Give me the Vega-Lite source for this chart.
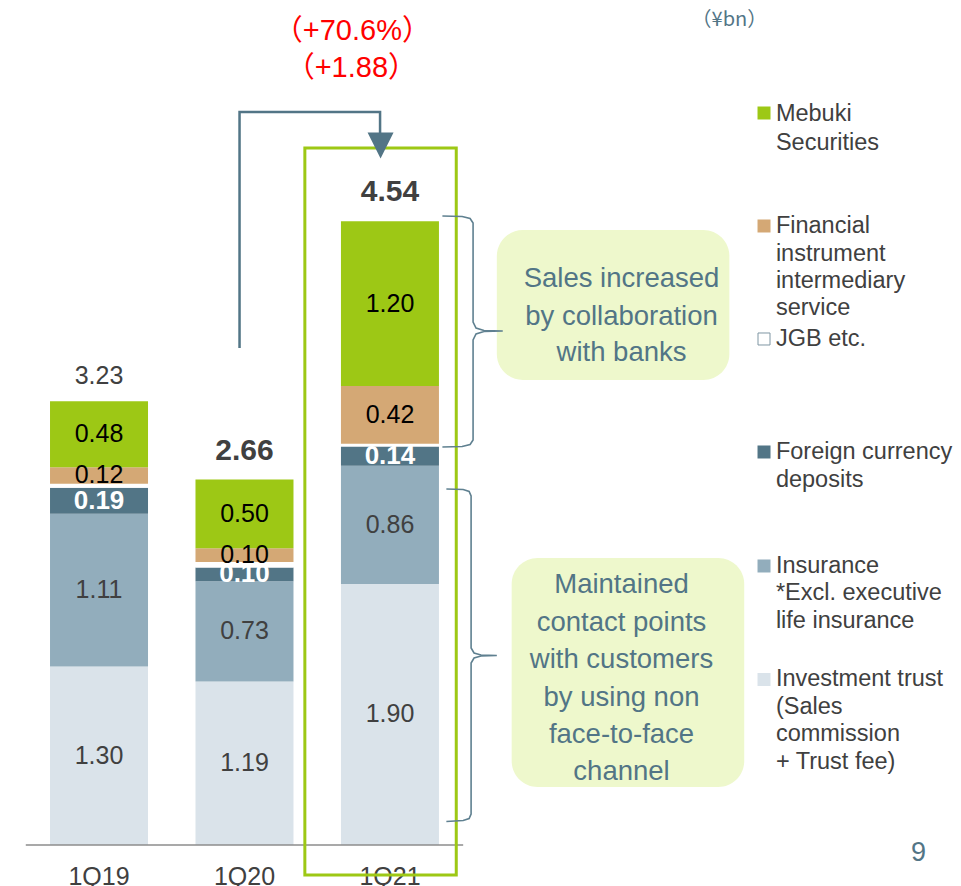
{
"$schema": "https://vega.github.io/schema/vega-lite/v6.json",
"width": 961, "height": 886,
"autosize": {"type": "none"},
"padding": 0,
"background": "white",
"config": {"view": {"stroke": null}, "font": "Liberation Sans", "text": {"font": "Liberation Sans"}},
"datasets": {
"seg": [
{"q":"1Q19","x":0,"cat":"Investment trust","k":1,"v":1.30},
{"q":"1Q19","x":0,"cat":"Insurance","k":2,"v":1.11},
{"q":"1Q19","x":0,"cat":"Foreign currency deposits","k":3,"v":0.19},
{"q":"1Q19","x":0,"cat":"JGB etc.","k":4,"v":0.03},
{"q":"1Q19","x":0,"cat":"Financial instrument intermediary service","k":5,"v":0.12},
{"q":"1Q19","x":0,"cat":"Mebuki Securities","k":6,"v":0.48},
{"q":"1Q20","x":1,"cat":"Investment trust","k":1,"v":1.19},
{"q":"1Q20","x":1,"cat":"Insurance","k":2,"v":0.73},
{"q":"1Q20","x":1,"cat":"Foreign currency deposits","k":3,"v":0.10},
{"q":"1Q20","x":1,"cat":"JGB etc.","k":4,"v":0.04},
{"q":"1Q20","x":1,"cat":"Financial instrument intermediary service","k":5,"v":0.10},
{"q":"1Q20","x":1,"cat":"Mebuki Securities","k":6,"v":0.50},
{"q":"1Q21","x":2,"cat":"Investment trust","k":1,"v":1.90},
{"q":"1Q21","x":2,"cat":"Insurance","k":2,"v":0.86},
{"q":"1Q21","x":2,"cat":"Foreign currency deposits","k":3,"v":0.14},
{"q":"1Q21","x":2,"cat":"JGB etc.","k":4,"v":0.02},
{"q":"1Q21","x":2,"cat":"Financial instrument intermediary service","k":5,"v":0.42},
{"q":"1Q21","x":2,"cat":"Mebuki Securities","k":6,"v":1.20}
],
"cats": [{"q":"1Q19","x":0,"t":3.23},{"q":"1Q20","x":1,"t":2.66},{"q":"1Q21","x":2,"t":4.54}],
"conn": [{"o":1,"x":0.966,"y":3.6172},{"o":2,"x":0.966,"y":5.3348},{"o":3,"x":1.932,"y":5.3348},{"o":4,"x":1.932,"y":5.1674}],
"brace": [
{"b":1,"o":1,"x":2.3605,"y":4.5779},{"b":1,"o":2,"x":2.4966,"y":4.5742},{"b":1,"o":3,"x":2.551,"y":4.5597},{"b":1,"o":4,"x":2.5714,"y":4.5269},{"b":1,"o":5,"x":2.5714,"y":3.8064},{"b":1,"o":6,"x":2.5918,"y":3.7627},{"b":1,"o":7,"x":2.6463,"y":3.7445},{"b":1,"o":8,"x":2.7755,"y":3.7409},{"b":1,"o":9,"x":2.6463,"y":3.7373},{"b":1,"o":10,"x":2.5918,"y":3.7191},{"b":1,"o":11,"x":2.5714,"y":3.6754},{"b":1,"o":12,"x":2.5714,"y":2.9476},{"b":1,"o":13,"x":2.551,"y":2.9148},{"b":1,"o":14,"x":2.4966,"y":2.9003},{"b":1,"o":15,"x":2.3605,"y":2.8967},
{"b":2,"o":1,"x":2.3878,"y":2.591},{"b":2,"o":2,"x":2.5034,"y":2.5873},{"b":2,"o":3,"x":2.5442,"y":2.5728},{"b":2,"o":4,"x":2.5578,"y":2.54},{"b":2,"o":5,"x":2.5578,"y":1.4338},{"b":2,"o":6,"x":2.5782,"y":1.3974},{"b":2,"o":7,"x":2.6259,"y":1.3828},{"b":2,"o":8,"x":2.7347,"y":1.3792},{"b":2,"o":9,"x":2.6259,"y":1.3755},{"b":2,"o":10,"x":2.5782,"y":1.361},{"b":2,"o":11,"x":2.5578,"y":1.3246},{"b":2,"o":12,"x":2.5578,"y":0.2256},{"b":2,"o":13,"x":2.5442,"y":0.1929},{"b":2,"o":14,"x":2.5034,"y":0.1783},{"b":2,"o":15,"x":2.3878,"y":0.171}
],
"callout": [{"x":2.7347,"x2":4.3333,"y":3.3843,"y2":4.476},{"x":2.8367,"x2":4.4354,"y":0.4221,"y2":2.0888}],
"ctext": [
{"x":3.5918,"y":4.1194,"t":"Sales increased"},
{"x":3.5918,"y":3.8464,"t":"by collaboration"},
{"x":3.5918,"y":3.5808,"t":"with banks"},
{"x":3.5918,"y":1.8923,"t":"Maintained"},
{"x":3.5918,"y":1.6157,"t":"contact points"},
{"x":3.5918,"y":1.3464,"t":"with customers"},
{"x":3.5918,"y":1.0735,"t":"by using non"},
{"x":3.5918,"y":0.8006,"t":"face-to-face"},
{"x":3.5918,"y":0.5313,"t":"channel"}
],
"red": [{"x":1.7415,"y":5.9243,"t":"（+70.6%）"},{"x":1.7347,"y":5.655,"t":"（+1.88）"}],
"legsq": [
{"cat":"Mebuki Securities","x":4.5714,"y":5.3275},
{"cat":"Financial instrument intermediary service","x":4.5714,"y":4.5051},
{"cat":"Foreign currency deposits","x":4.5714,"y":2.8603},
{"cat":"Insurance","x":4.5714,"y":2.0306},
{"cat":"Investment trust","x":4.5714,"y":1.2045}
],
"legtxt": [
{"x":4.6531,"y":5.3202,"t":"Mebuki"},
{"x":4.6531,"y":5.1092,"t":"Securities"},
{"x":4.6531,"y":4.5051,"t":"Financial"},
{"x":4.6531,"y":4.3013,"t":"instrument"},
{"x":4.6531,"y":4.1048,"t":"intermediary"},
{"x":4.6531,"y":3.9083,"t":"service"},
{"x":4.6531,"y":3.6827,"t":"JGB etc."},
{"x":4.6531,"y":2.8603,"t":"Foreign currency"},
{"x":4.6531,"y":2.6565,"t":"deposits"},
{"x":4.6531,"y":2.0306,"t":"Insurance"},
{"x":4.6531,"y":1.8341,"t":"*Excl. executive"},
{"x":4.6531,"y":1.6303,"t":"life insurance"},
{"x":4.6531,"y":1.2082,"t":"Investment trust"},
{"x":4.6531,"y":1.0044,"t":"(Sales"},
{"x":4.6531,"y":0.8079,"t":"commission"},
{"x":4.6531,"y":0.6041,"t":"+ Trust fee)"}
]
},
"layer": [
{"data":{"name":"seg"},
 "transform":[{"stack":"v","groupby":["q"],"sort":[{"field":"k","order":"ascending"}],"as":["y0","y1"]}],
 "mark":{"type":"bar","width":98},
 "encoding":{
  "x":{"field":"x","type":"quantitative","scale":{"domain":[-0.6463,5.8912],"nice":false,"zero":false},"axis":null},
  "y":{"field":"y0","type":"quantitative","scale":{"domain":[-0.2984,6.1499],"nice":false,"zero":false},"axis":null},
  "y2":{"field":"y1"},
  "color":{"field":"cat","type":"nominal","legend":null,
   "scale":{"domain":["Investment trust","Insurance","Foreign currency deposits","JGB etc.","Financial instrument intermediary service","Mebuki Securities"],
            "range":["#dae3ea","#92adbc","#527586","#ffffff","#d4a875","#9dc815"]}}
 }},
{"data":{"name":"seg"},
 "transform":[{"stack":"v","groupby":["q"],"sort":[{"field":"k","order":"ascending"}],"as":["y0","y1"]},
  {"filter":{"field":"cat","oneOf":["Investment trust","Insurance"]}},
  {"fold":["y0","y1"],"as":["edge","ym"]}],
 "mark":{"type":"text","fontSize":25,"color":"#404040"},
 "encoding":{
  "x":{"field":"x","type":"quantitative","scale":{"domain":[-0.6463,5.8912],"nice":false,"zero":false},"axis":null},
  "y":{"field":"ym","aggregate":"mean","type":"quantitative","scale":{"domain":[-0.2984,6.1499],"nice":false,"zero":false},"axis":null},
  "text":{"field":"v","type":"quantitative","format":".2f"},
  "detail":{"field":"cat"}
 }},
{"data":{"name":"seg"},
 "transform":[{"stack":"v","groupby":["q"],"sort":[{"field":"k","order":"ascending"}],"as":["y0","y1"]},
  {"filter":{"field":"cat","oneOf":["Financial instrument intermediary service","Mebuki Securities"]}},
  {"fold":["y0","y1"],"as":["edge","ym"]}],
 "mark":{"type":"text","fontSize":25,"color":"#000000"},
 "encoding":{
  "x":{"field":"x","type":"quantitative","scale":{"domain":[-0.6463,5.8912],"nice":false,"zero":false},"axis":null},
  "y":{"field":"ym","aggregate":"mean","type":"quantitative","scale":{"domain":[-0.2984,6.1499],"nice":false,"zero":false},"axis":null},
  "text":{"field":"v","type":"quantitative","format":".2f"},
  "detail":{"field":"cat"}
 }},
{"data":{"name":"seg"},
 "transform":[{"stack":"v","groupby":["q"],"sort":[{"field":"k","order":"ascending"}],"as":["y0","y1"]},
  {"filter":{"field":"cat","oneOf":["Foreign currency deposits"]}},
  {"fold":["y0","y1"],"as":["edge","ym"]}],
 "mark":{"type":"text","fontSize":26,"fontWeight":"bold","color":"#ffffff"},
 "encoding":{
  "x":{"field":"x","type":"quantitative","scale":{"domain":[-0.6463,5.8912],"nice":false,"zero":false},"axis":null},
  "y":{"field":"ym","aggregate":"mean","type":"quantitative","scale":{"domain":[-0.2984,6.1499],"nice":false,"zero":false},"axis":null},
  "text":{"field":"v","type":"quantitative","format":".2f"},
  "detail":{"field":"cat"}
 }},
{"data":{"name":"cats"},
 "transform":[{"filter":{"field":"q","equal":"1Q19"}}],
 "mark":{"type":"text","fontSize":25,"color":"#404040","dy":-25},
 "encoding":{
  "x":{"field":"x","type":"quantitative","scale":{"domain":[-0.6463,5.8912],"nice":false,"zero":false},"axis":null},
  "y":{"field":"t","type":"quantitative","scale":{"domain":[-0.2984,6.1499],"nice":false,"zero":false},"axis":null},
  "text":{"field":"t","type":"quantitative","format":".2f"}
 }},
{"data":{"name":"cats"},
 "transform":[{"filter":{"field":"q","oneOf":["1Q20","1Q21"]}}],
 "mark":{"type":"text","fontSize":30,"fontWeight":"bold","color":"#404040","dy":-29},
 "encoding":{
  "x":{"field":"x","type":"quantitative","scale":{"domain":[-0.6463,5.8912],"nice":false,"zero":false},"axis":null},
  "y":{"field":"t","type":"quantitative","scale":{"domain":[-0.2984,6.1499],"nice":false,"zero":false},"axis":null},
  "text":{"field":"t","type":"quantitative","format":".2f"}
 }},
{"data":{"values":[{"x":-0.5034,"x2":2.5034,"y":0}]},
 "mark":{"type":"rule","color":"#8c8c8c","strokeWidth":1.5},
 "encoding":{
  "x":{"field":"x","type":"quantitative","scale":{"domain":[-0.6463,5.8912],"nice":false,"zero":false},"axis":null},
  "x2":{"field":"x2"},
  "y":{"field":"y","type":"quantitative","scale":{"domain":[-0.2984,6.1499],"nice":false,"zero":false},"axis":null}
 }},
{"data":{"name":"cats"},
 "mark":{"type":"text","fontSize":25,"color":"#404040","baseline":"alphabetic"},
 "encoding":{
  "x":{"field":"x","type":"quantitative","scale":{"domain":[-0.6463,5.8912],"nice":false,"zero":false},"axis":null},
  "y":{"datum":-0.2911,"type":"quantitative","scale":{"domain":[-0.2984,6.1499],"nice":false,"zero":false},"axis":null},
  "text":{"field":"q"}
 }},
{"data":{"name":"callout"},
 "mark":{"type":"rect","fill":"#eef8cc","cornerRadius":26},
 "encoding":{
  "x":{"field":"x","type":"quantitative","scale":{"domain":[-0.6463,5.8912],"nice":false,"zero":false},"axis":null},
  "x2":{"field":"x2"},
  "y":{"field":"y","type":"quantitative","scale":{"domain":[-0.2984,6.1499],"nice":false,"zero":false},"axis":null},
  "y2":{"field":"y2"}
 }},
{"data":{"values":[{"x":1.415,"x2":2.4558,"y":-0.2183,"y2":5.0728}]},
 "mark":{"type":"rect","filled":false,"stroke":"#9dc815","strokeWidth":3},
 "encoding":{
  "x":{"field":"x","type":"quantitative","scale":{"domain":[-0.6463,5.8912],"nice":false,"zero":false},"axis":null},
  "x2":{"field":"x2"},
  "y":{"field":"y","type":"quantitative","scale":{"domain":[-0.2984,6.1499],"nice":false,"zero":false},"axis":null},
  "y2":{"field":"y2"}
 }},
{"data":{"name":"brace"},
 "mark":{"type":"line","color":"#5f8090","strokeWidth":1.6},
 "encoding":{
  "x":{"field":"x","type":"quantitative","scale":{"domain":[-0.6463,5.8912],"nice":false,"zero":false},"axis":null},
  "y":{"field":"y","type":"quantitative","scale":{"domain":[-0.2984,6.1499],"nice":false,"zero":false},"axis":null},
  "detail":{"field":"b"},
  "order":{"field":"o","type":"quantitative"}
 }},
{"data":{"name":"conn"},
 "mark":{"type":"line","color":"#527586","strokeWidth":2.5},
 "encoding":{
  "x":{"field":"x","type":"quantitative","scale":{"domain":[-0.6463,5.8912],"nice":false,"zero":false},"axis":null},
  "y":{"field":"y","type":"quantitative","scale":{"domain":[-0.2984,6.1499],"nice":false,"zero":false},"axis":null},
  "order":{"field":"o","type":"quantitative"}
 }},
{"data":{"values":[{"x":1.9354,"y":5.091}]},
 "mark":{"type":"point","shape":"M-1,-1L1,-1L0,1Z","size":676,"filled":true,"color":"#527586","opacity":1},
 "encoding":{
  "x":{"field":"x","type":"quantitative","scale":{"domain":[-0.6463,5.8912],"nice":false,"zero":false},"axis":null},
  "y":{"field":"y","type":"quantitative","scale":{"domain":[-0.2984,6.1499],"nice":false,"zero":false},"axis":null}
 }},
{"data":{"name":"ctext"},
 "mark":{"type":"text","fontSize":27.5,"color":"#527586"},
 "encoding":{
  "x":{"field":"x","type":"quantitative","scale":{"domain":[-0.6463,5.8912],"nice":false,"zero":false},"axis":null},
  "y":{"field":"y","type":"quantitative","scale":{"domain":[-0.2984,6.1499],"nice":false,"zero":false},"axis":null},
  "text":{"field":"t"}
 }},
{"data":{"name":"red"},
 "mark":{"type":"text","fontSize":29,"color":"#ff0000","font":"Liberation Sans, Noto Sans CJK JP"},
 "encoding":{
  "x":{"field":"x","type":"quantitative","scale":{"domain":[-0.6463,5.8912],"nice":false,"zero":false},"axis":null},
  "y":{"field":"y","type":"quantitative","scale":{"domain":[-0.2984,6.1499],"nice":false,"zero":false},"axis":null},
  "text":{"field":"t"}
 }},
{"data":{"name":"legsq"},
 "mark":{"type":"point","shape":"square","size":169,"filled":true,"opacity":1},
 "encoding":{
  "x":{"field":"x","type":"quantitative","scale":{"domain":[-0.6463,5.8912],"nice":false,"zero":false},"axis":null},
  "y":{"field":"y","type":"quantitative","scale":{"domain":[-0.2984,6.1499],"nice":false,"zero":false},"axis":null},
  "color":{"field":"cat","type":"nominal","legend":null,
   "scale":{"domain":["Investment trust","Insurance","Foreign currency deposits","JGB etc.","Financial instrument intermediary service","Mebuki Securities"],
            "range":["#dae3ea","#92adbc","#527586","#ffffff","#d4a875","#9dc815"]}}
 }},
{"data":{"values":[{"x":4.5714,"y":3.6827}]},
 "mark":{"type":"point","shape":"square","size":144,"filled":false,"stroke":"#7f96a3","strokeWidth":1,"opacity":1},
 "encoding":{
  "x":{"field":"x","type":"quantitative","scale":{"domain":[-0.6463,5.8912],"nice":false,"zero":false},"axis":null},
  "y":{"field":"y","type":"quantitative","scale":{"domain":[-0.2984,6.1499],"nice":false,"zero":false},"axis":null}
 }},
{"data":{"name":"legtxt"},
 "mark":{"type":"text","fontSize":23.5,"color":"#404040","align":"left"},
 "encoding":{
  "x":{"field":"x","type":"quantitative","scale":{"domain":[-0.6463,5.8912],"nice":false,"zero":false},"axis":null},
  "y":{"field":"y","type":"quantitative","scale":{"domain":[-0.2984,6.1499],"nice":false,"zero":false},"axis":null},
  "text":{"field":"t"}
 }},
{"data":{"values":[{"x":4.3333,"y":6.0044,"t":"（¥bn）"}]},
 "mark":{"type":"text","fontSize":20,"color":"#527586","font":"Noto Sans CJK JP"},
 "encoding":{
  "x":{"field":"x","type":"quantitative","scale":{"domain":[-0.6463,5.8912],"nice":false,"zero":false},"axis":null},
  "y":{"field":"y","type":"quantitative","scale":{"domain":[-0.2984,6.1499],"nice":false,"zero":false},"axis":null},
  "text":{"field":"t"}
 }},
{"data":{"values":[{"x":5.6327,"y":-0.0582,"t":"9"}]},
 "mark":{"type":"text","fontSize":27,"color":"#527586"},
 "encoding":{
  "x":{"field":"x","type":"quantitative","scale":{"domain":[-0.6463,5.8912],"nice":false,"zero":false},"axis":null},
  "y":{"field":"y","type":"quantitative","scale":{"domain":[-0.2984,6.1499],"nice":false,"zero":false},"axis":null},
  "text":{"field":"t"}
 }}
]
}
